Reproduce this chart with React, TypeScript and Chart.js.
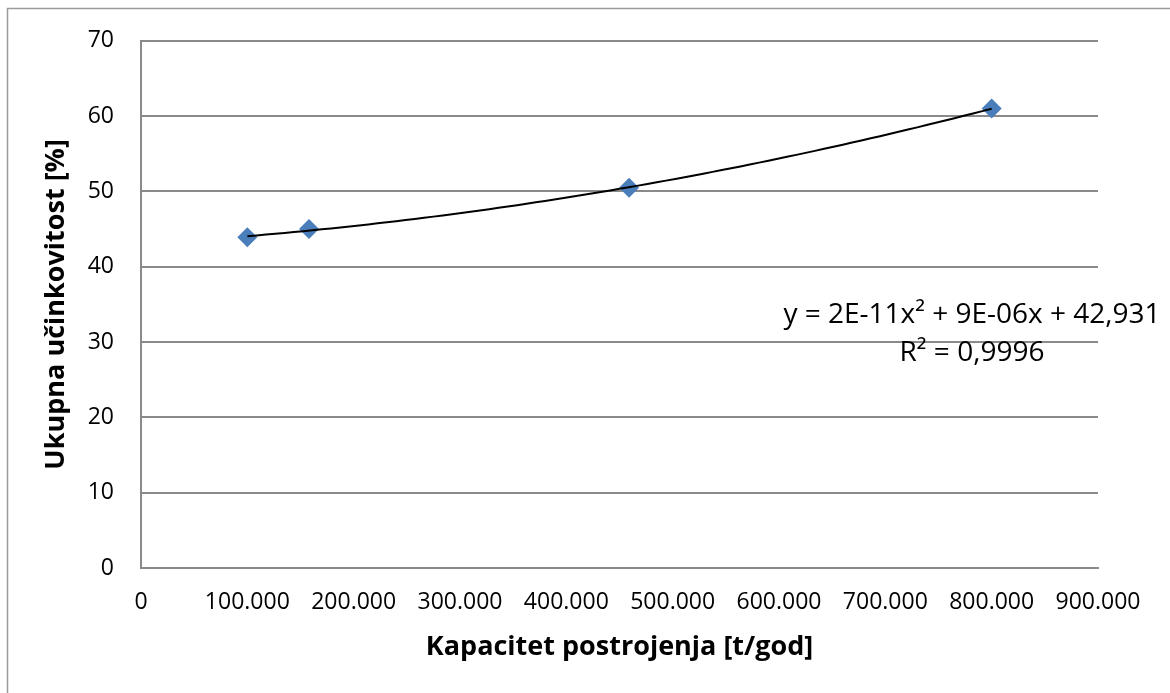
import React, { useEffect, useRef } from "react";
import { Chart, registerables } from "chart.js";

Chart.register(...registerables);

// ---- data ----
const capacity: number[] = [100000, 158000, 459000, 800000];
const efficiency: number[] = [43.9, 45.0, 50.5, 61.0];

const xTickValues: number[] = [0, 100000, 200000, 300000, 400000, 500000, 600000, 700000, 800000, 900000];
const yTickValues: number[] = [0, 10, 20, 30, 40, 50, 60, 70];

const xTitle = "Kapacitet postrojenja [t/god]";
const yTitle = "Ukupna učinkovitost [%]";
const equationLines: string[] = ["y = 2E-11x² + 9E-06x + 42,931", "R² = 0,9996"];

const FONT = "'Open Sans', 'Noto Sans', sans-serif";
const GRID = "#8a8a8a";

function formatThousands(v: number): string {
  const s = Math.round(v).toString();
  return s.replace(/\B(?=(\d{3})+(?!\d))/g, ".");
}

// Least-squares polynomial (order 2) trendline, as the spreadsheet computes it
function quadFit(xs: number[], ys: number[]): [number, number, number] {
  const n = xs.length;
  const s = (p: number) => xs.reduce((a, x) => a + Math.pow(x, p), 0);
  const t = (p: number) => xs.reduce((a, x, i) => a + Math.pow(x, p) * ys[i], 0);
  const M = [
    [n, s(1), s(2), t(0)],
    [s(1), s(2), s(3), t(1)],
    [s(2), s(3), s(4), t(2)],
  ];
  for (let i = 0; i < 3; i++) {
    let piv = i;
    for (let r = i + 1; r < 3; r++) if (Math.abs(M[r][i]) > Math.abs(M[piv][i])) piv = r;
    [M[i], M[piv]] = [M[piv], M[i]];
    for (let r = 0; r < 3; r++) {
      if (r === i) continue;
      const f = M[r][i] / M[i][i];
      for (let c = i; c < 4; c++) M[r][c] -= f * M[i][c];
    }
  }
  return [M[0][3] / M[0][0], M[1][3] / M[1][1], M[2][3] / M[2][2]];
}

export default function App() {
  const ref = useRef<HTMLCanvasElement | null>(null);

  useEffect(() => {
    const canvas = ref.current;
    if (!canvas) return;
    const [c0, c1, c2] = quadFit(capacity, efficiency);
    const xmin = Math.min(...capacity);
    const xmax = Math.max(...capacity);
    const trend: { x: number; y: number }[] = [];
    const steps = 80;
    for (let i = 0; i <= steps; i++) {
      const x = xmin + ((xmax - xmin) * i) / steps;
      trend.push({ x, y: c0 + c1 * x + c2 * x * x });
    }

    const borderPlugin = {
      id: "outerBorder",
      beforeDraw(chart: any) {
        const ctx = chart.ctx;
        ctx.save();
        ctx.strokeStyle = "#9a9a9a";
        ctx.lineWidth = 1.5;
        ctx.beginPath();
        ctx.moveTo(7.5, chart.height);
        ctx.lineTo(7.5, 8.5);
        ctx.lineTo(chart.width, 8.5);
        ctx.stroke();
        ctx.restore();
      },
    };

    const equationPlugin = {
      id: "equation",
      afterDraw(chart: any) {
        const ctx = chart.ctx;
        const area = chart.chartArea;
        const yScale = chart.scales.y;
        ctx.save();
        ctx.fillStyle = "#000";
        ctx.font = `28px ${FONT}`;
        ctx.textAlign = "center";
        ctx.textBaseline = "middle";
        const cx = area.right - 126;
        const y0 = yScale.getPixelForValue(33.6);
        equationLines.forEach((line, i) => {
          ctx.fillText(line, cx, y0 + i * 38);
        });
        ctx.restore();
      },
    };

    const chart = new Chart(canvas, {
      type: "scatter",
      data: {
        datasets: [
          {
            label: "trend",
            data: trend,
            showLine: true,
            borderColor: "#000",
            borderWidth: 2,
            pointRadius: 0,
            fill: false,
            tension: 0,
            order: 0,
          },
          {
            label: "data",
            data: capacity.map((x, i) => ({ x, y: efficiency[i] })),
            pointStyle: "rectRot",
            pointRadius: 10,
            backgroundColor: "#4a7ebb",
            borderColor: "#4a7ebb",
            borderWidth: 0,
            order: 1,
          },
        ],
      },
      options: {
        responsive: false,
        animation: false,
        layout: { padding: { top: 38, right: 72, left: 0, bottom: 0 } },
        plugins: {
          legend: { display: false },
          tooltip: { enabled: false },
        },
        scales: {
          x: {
            type: "linear",
            min: 0,
            max: 900000,
            afterBuildTicks: (scale: any) => {
              scale.ticks = xTickValues.map((v) => ({ value: v }));
            },
            afterFit: (scale: any) => {
              scale.height = 125;
            },
            ticks: {
              color: "#000",
              font: { family: FONT, size: 23 },
              padding: 21,
              maxRotation: 0,
              autoSkip: false,
              callback: (v: any) => formatThousands(Number(v)),
            },
            grid: { display: false, drawTicks: false },
            border: { display: true, color: GRID, width: 2 },
            title: {
              display: true,
              text: xTitle,
              color: "#000",
              font: { family: FONT, size: 27, weight: "bold" },
              padding: { top: 0, bottom: 29 },
            },
          },
          y: {
            type: "linear",
            min: 0,
            max: 70,
            afterBuildTicks: (scale: any) => {
              scale.ticks = yTickValues.map((v) => ({ value: v }));
            },
            afterFit: (scale: any) => {
              scale.width = 141;
            },
            ticks: {
              color: "#000",
              font: { family: FONT, size: 23 },
              padding: 27,
              autoSkip: false,
            },
            grid: { color: GRID, lineWidth: 2, drawTicks: false },
            border: { display: true, color: GRID, width: 2 },
            title: {
              display: true,
              text: yTitle,
              color: "#000",
              font: { family: FONT, size: 27, weight: "bold" },
              padding: { top: 40, bottom: 0 },
            },
          },
        },
      },
      plugins: [borderPlugin, equationPlugin],
    });

    return () => chart.destroy();
  }, []);

  return (
    <div style={{ position: "fixed", left: 0, top: 0, width: 1170, height: 693, background: "#fff" }}>
      <canvas ref={ref} width={1170} height={693} style={{ display: "block" }} />
    </div>
  );
}
